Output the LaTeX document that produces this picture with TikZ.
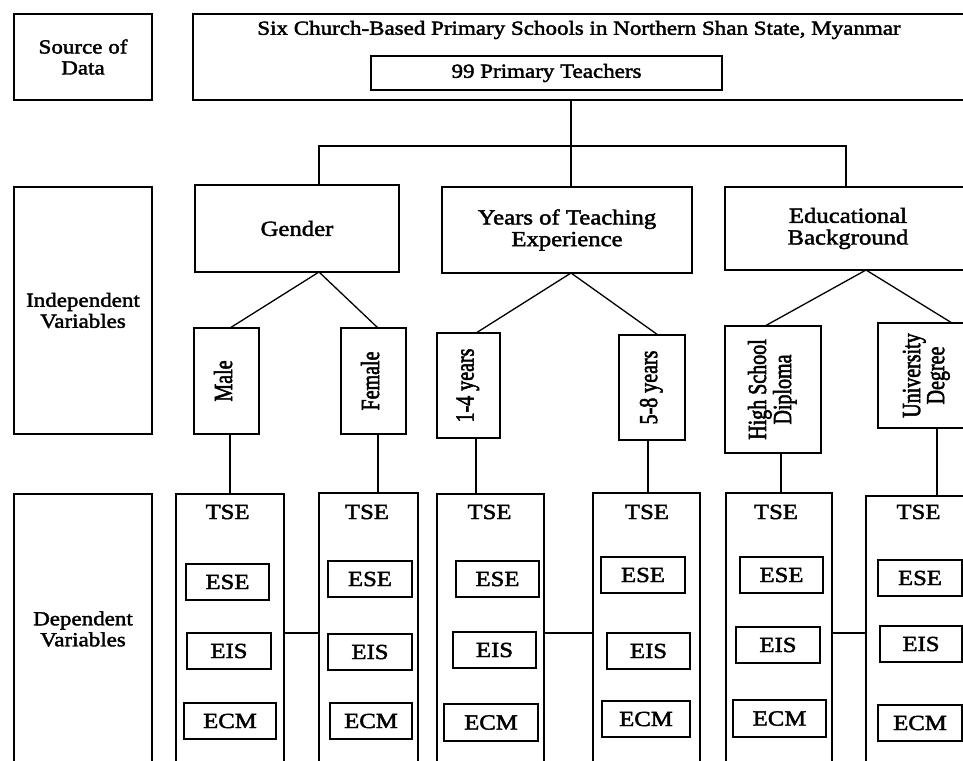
\documentclass[tikz,border=0pt]{standalone}
\usepackage{fontspec}
\usepackage{graphicx}
\setmainfont{Liberation Serif}[FakeStretch=1.15,FakeBold=2]
\newfontfamily\rotfont{Liberation Serif}[FakeBold=2.5]
\newcommand\fs{\fontsize{20}{21}\selectfont}
\newcommand\fb{\fontsize{21.5}{21.7}\selectfont}
\newcommand\rt[1]{\rotatebox{90}{\scalebox{1}[1.3]{\rotfont\fontsize{20}{18}\selectfont\begin{tabular}{@{}c@{}}#1\end{tabular}}}}
\tikzset{
  box/.style={draw, line width=1.3pt, inner sep=0pt, outer sep=0pt, align=center, font=\fs},
  big/.style={font=\fb},
  lbl/.style={inner sep=0pt, align=center, font=\fs},
  conn/.style={line width=1.3pt},
}
\begin{document}
\begin{tikzpicture}[x=1pt, y=-1pt]
\clip (0,0) rectangle (963,760);
\fill[white] (0,0) rectangle (963,760);
% row 1
\node[box, minimum width=138, minimum height=86] (src) at (83,57) {Source of\\Data};
\node[box, minimum width=773, minimum height=86] (top) at (579.5,57) {};
\node[lbl] (title) at (579,30) {Six Church-Based Primary Schools in Northern Shan State, Myanmar};
\node[box, minimum width=351, minimum height=34] (n99) at (546.5,73) {99 Primary Teachers};
% row 2
\node[box, minimum width=138, minimum height=247] (indep) at (83,310.5) {Independent\\Variables};
\node[box, big, minimum width=204, minimum height=87] (gender) at (297,228.5) {Gender};
\node[box, big, minimum width=250, minimum height=86] (years) at (567,230) {Years of Teaching\\Experience};
\node[box, big, minimum width=246, minimum height=83] (edu) at (848,228.5) {Educational\\Background};
\node[box, minimum width=65, minimum height=106] (male) at (226.5,381) {\rt{Male}};
\node[box, minimum width=65, minimum height=106] (female) at (373.5,381) {\rt{Female}};
\node[box, minimum width=63, minimum height=105] (y14) at (468.5,385.5) {\rt{1-4 years}};
\node[box, minimum width=66, minimum height=105] (y58) at (652,387.5) {\rt{5-8 years}};
\node[box, minimum width=96, minimum height=127] (hsd) at (773,389.5) {\rt{High School\\Diploma}};
\node[box, minimum width=98, minimum height=105] (ud) at (927,375.5) {\rt{University\\Degree}};
% row 3
\node[box, minimum width=138, minimum height=270] (dep) at (83,629) {Dependent\\Variables};
\node[box, minimum width=108, minimum height=281] (col1) at (230,634.5) {};
\node[box, minimum width=99, minimum height=282] (col2) at (368.5,634) {};
\node[box, minimum width=107, minimum height=281] (col3) at (490.5,634.5) {};
\node[box, minimum width=107, minimum height=282] (col4) at (646.5,634) {};
\node[box, minimum width=106, minimum height=282] (col5) at (779,634) {};
\node[box, minimum width=104, minimum height=279] (col6) at (918,635.5) {};
\node[lbl, big] (tse1) at (227.6,512) {TSE};
\node[lbl, big] (tse2) at (367,512) {TSE};
\node[lbl, big] (tse3) at (489.5,512) {TSE};
\node[lbl, big] (tse4) at (647,512) {TSE};
\node[lbl, big] (tse5) at (776,512) {TSE};
\node[lbl, big] (tse6) at (918.5,512) {TSE};
\node[box, big, minimum width=83, minimum height=36] (ese1) at (227.5,582) {ESE};
\node[box, big, minimum width=84, minimum height=36] (ese2) at (370,579) {ESE};
\node[box, big, minimum width=83, minimum height=36] (ese3) at (497.5,579) {ESE};
\node[box, big, minimum width=84, minimum height=36] (ese4) at (643,575) {ESE};
\node[box, big, minimum width=83, minimum height=36] (ese5) at (781.5,575) {ESE};
\node[box, big, minimum width=84, minimum height=36] (ese6) at (920,578) {ESE};
\node[box, big, minimum width=84, minimum height=36] (eis1) at (229,651) {EIS};
\node[box, big, minimum width=84, minimum height=36] (eis2) at (370,652) {EIS};
\node[box, big, minimum width=83, minimum height=36] (eis3) at (494.5,650) {EIS};
\node[box, big, minimum width=83, minimum height=36] (eis4) at (648.5,651) {EIS};
\node[box, big, minimum width=84, minimum height=36] (eis5) at (778,645) {EIS};
\node[box, big, minimum width=82, minimum height=36] (eis6) at (921,644) {EIS};
\node[box, big, minimum width=92, minimum height=36] (ecm1) at (230,721) {ECM};
\node[box, big, minimum width=82, minimum height=36] (ecm2) at (371,721) {ECM};
\node[box, big, minimum width=94, minimum height=37] (ecm3) at (491,722.5) {ECM};
\node[box, big, minimum width=88, minimum height=36] (ecm4) at (646,719) {ECM};
\node[box, big, minimum width=93, minimum height=37] (ecm5) at (779.5,718.5) {ECM};
\node[box, big, minimum width=84, minimum height=36] (ecm6) at (920,723) {ECM};
% connectors
\coordinate (j0) at (571,146);
\coordinate (j1) at (319,146);
\coordinate (j3) at (846,146);
\coordinate (hy) at (0,633);
\draw[conn] (top.south -| j0) -- (years.north -| j0);
\draw[conn] (gender.north -| j1) -- (j1) -- (j3) -- (edu.north -| j3);
\draw[conn] ([xshift=3.5pt]male.north) -- ([xshift=22pt]gender.south) -- ([xshift=4.5pt]female.north);
\draw[conn] ([xshift=7.5pt]y14.north) -- ([xshift=4pt]years.south) -- ([xshift=6pt]y58.north);
\draw[conn] ([xshift=-8pt]hsd.north) -- ([xshift=18pt]edu.south) -- ([xshift=25pt]ud.north);
\draw[conn] ([xshift=3.5pt]male.south) -- (col1.north);
\draw[conn] ([xshift=4.5pt]female.south) -- ([xshift=9.5pt]col2.north);
\draw[conn] ([xshift=7.5pt]y14.south) -- ([xshift=-14.5pt]col3.north);
\draw[conn] ([xshift=-4pt]y58.south) -- ([xshift=1.5pt]col4.north);
\draw[conn] ([xshift=8pt]hsd.south) -- ([xshift=2pt]col5.north);
\draw[conn] ([xshift=10pt]ud.south) -- ([xshift=19pt]col6.north);
\draw[conn] (col1.east |- hy) -- (col2.west |- hy);
\draw[conn] (col3.east |- hy) -- (col4.west |- hy);
\draw[conn] (col5.east |- hy) -- (col6.west |- hy);
\end{tikzpicture}
\end{document}
